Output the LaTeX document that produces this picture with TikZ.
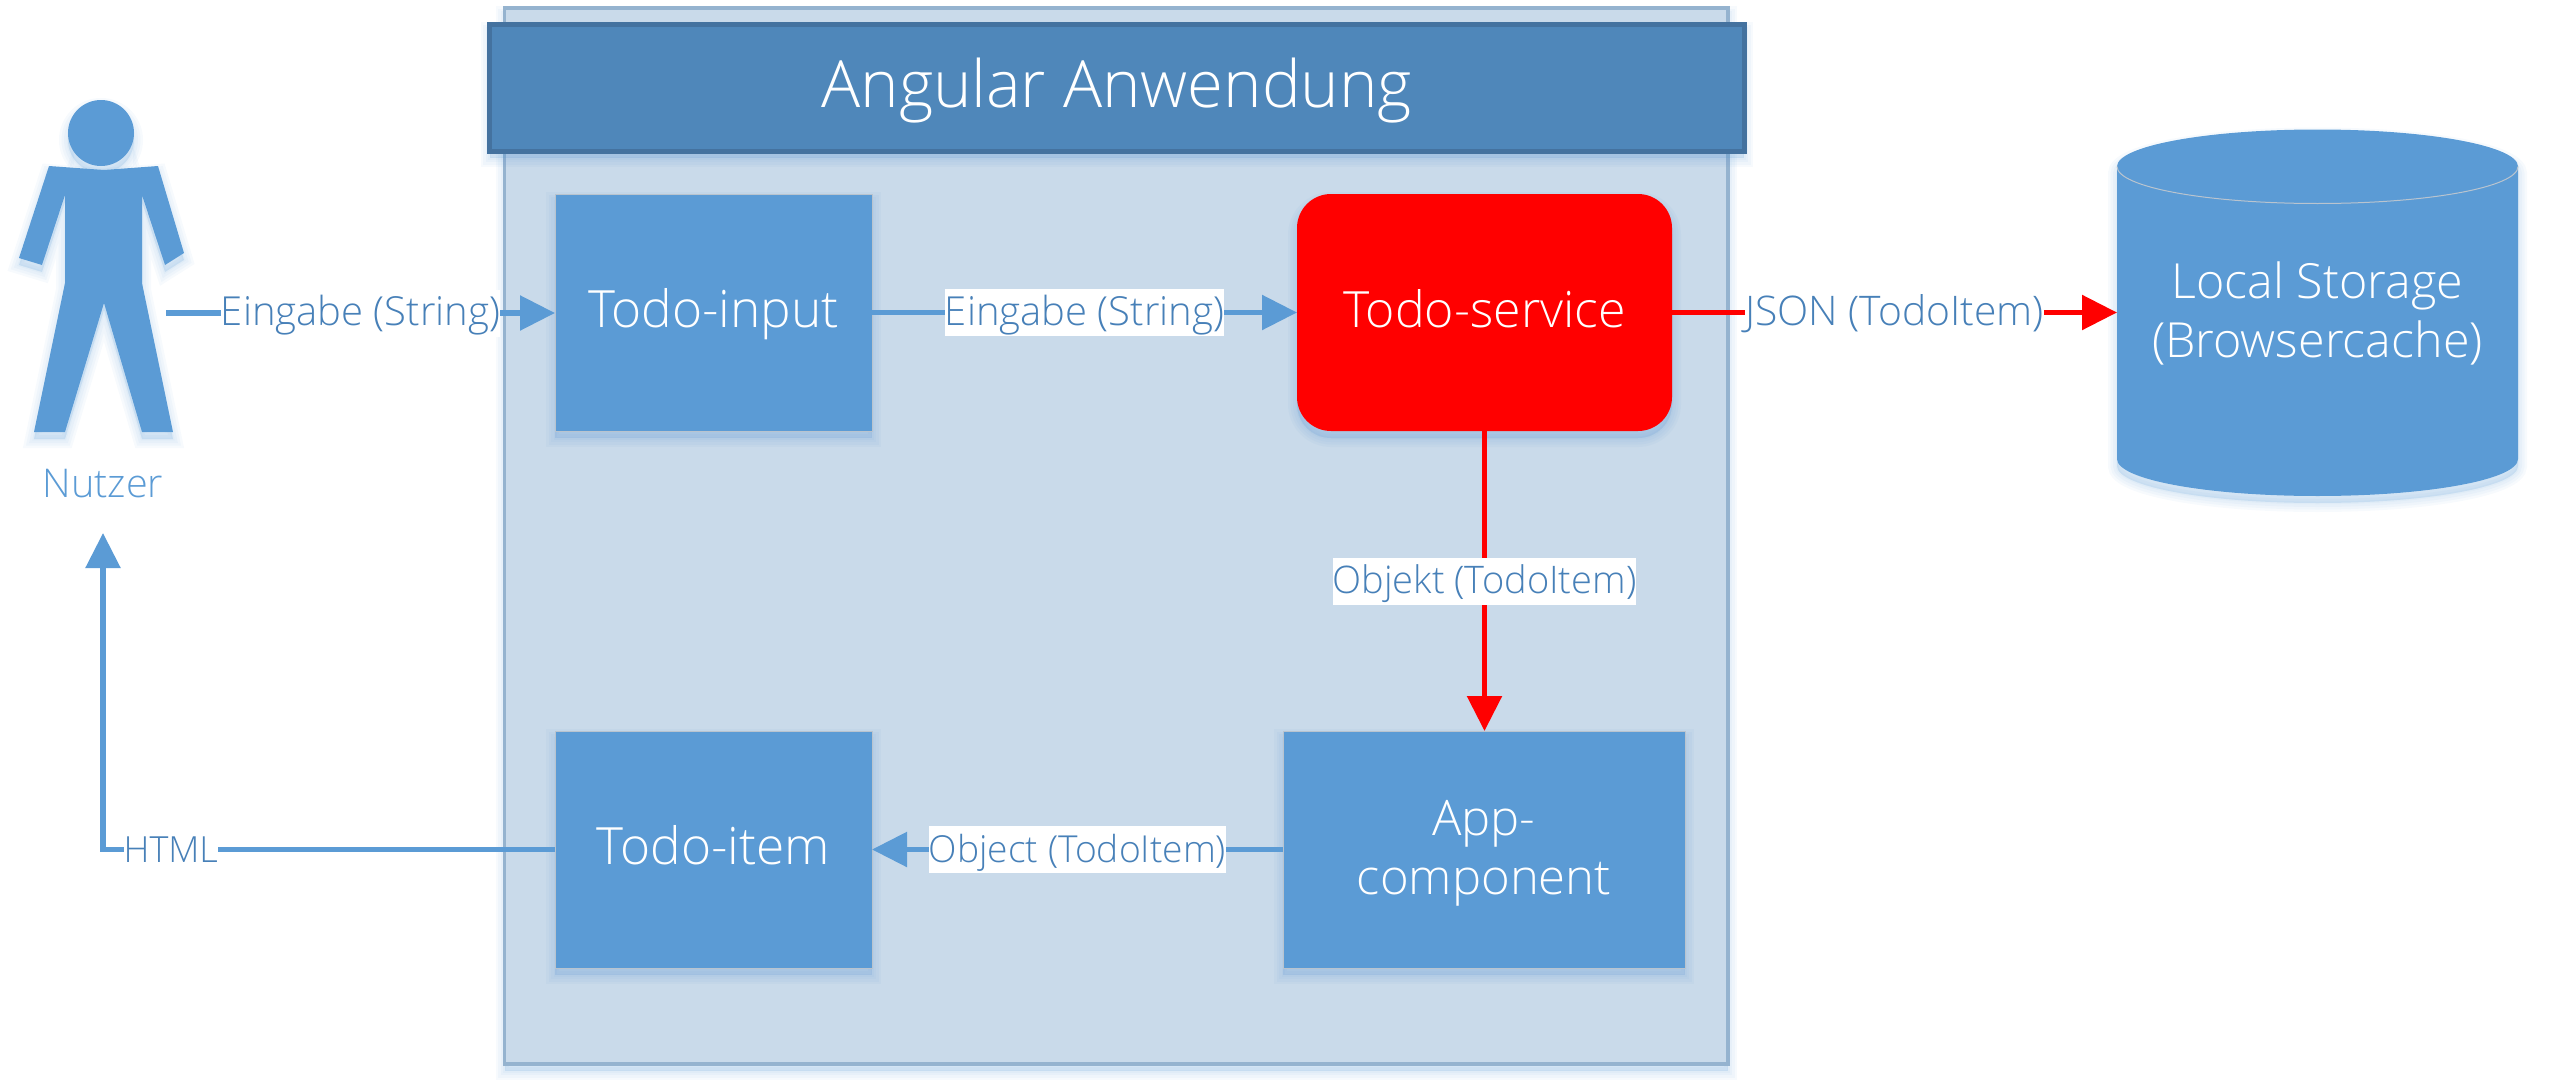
\documentclass[tikz,border=0pt]{standalone}
\usepackage{fontspec}
\setmainfont{Open Sans Light}
\usetikzlibrary{arrows.meta}
\definecolor{bluefill}{HTML}{5B9BD5}
\definecolor{headfill}{HTML}{4F87BA}
\definecolor{headline}{HTML}{44729F}
\definecolor{contfill}{HTML}{C9DAEA}
\definecolor{contline}{HTML}{95B3CF}
\definecolor{labeltext}{HTML}{4780B8}
\definecolor{shadowc}{HTML}{5B9BD5}
\definecolor{edgegrey}{HTML}{B9C4CF}
\tikzset{
  softshadow/.style={
    preaction={draw=shadowc,fill=shadowc,opacity=.05,line width=9pt,transform canvas={yshift=-3.5pt}},
    preaction={draw=shadowc,fill=shadowc,opacity=.05,line width=6.5pt,transform canvas={yshift=-3.5pt}},
    preaction={draw=shadowc,fill=shadowc,opacity=.05,line width=4pt,transform canvas={yshift=-3.5pt}},
    preaction={draw=shadowc,fill=shadowc,opacity=.05,line width=1.5pt,transform canvas={yshift=-3.5pt}}},
  boxbase/.style={inner sep=0pt,outer sep=0pt,text=white,align=center},
  boxfont/.style={font=\fontsize{#1}{29.5pt}\selectfont},
  oneline/.style={text height=21.5pt,text depth=6.5pt},
  twolines/.style={text height=50pt,text depth=5.5pt},
  bluebox/.style={boxbase,rectangle,fill=bluefill,draw=edgegrey,line width=.4pt,softshadow},
  redbox/.style={boxbase,rectangle,fill=red,rounded corners=17pt,softshadow},
  container/.style={boxbase,rectangle,fill=contfill,draw=contline,line width=1.75pt,softshadow},
  headerbox/.style={boxbase,rectangle,fill=headfill,draw=headline,line width=2.5pt,softshadow,text height=27pt,text depth=7.5pt,font=\fontsize{32.6pt}{38pt}\selectfont},
  flowline/.style={draw=bluefill,line width=2.75pt,-{Triangle[length=17.5pt,width=17pt]}},
  redline/.style={flowline,draw=red},
  edgelabel/.style={fill=white,text=labeltext,inner sep=0pt,minimum height=23.5pt,text height=15pt,text depth=2.5pt,font=\fontsize{#1}{23pt}\selectfont},
  edgelabel/.default={19pt},
  storetext/.style={boxbase,boxfont=24.2pt,twolines},
}
\begin{document}
\begin{tikzpicture}[x=0.5pt,y=-0.5pt]
\useasboundingbox (0,0) rectangle (2556,1092);
% containers
\node[container,minimum width=611.75pt,minimum height=528pt] (app) at (1116.25,536) {};
\node[headerbox,minimum width=627.25pt,minimum height=63.5pt] (header) at (1116.75,87.5) {Angular Anwendung};
% boxes
\node[bluebox,boxfont=25.7pt,oneline,minimum width=158.5pt,minimum height=118.5pt] (input) at (713.5,312.5) {Todo-input};
\node[redbox,boxfont=25pt,oneline,minimum width=187.5pt,minimum height=118.5pt] (service) at (1484.5,312.5) {Todo-service};
\node[bluebox,boxfont=25.7pt,oneline,minimum width=158.5pt,minimum height=118.5pt] (item) at (713.5,849.5) {Todo-item};
\node[bluebox,boxfont=24.5pt,twolines,minimum width=201pt,minimum height=118.5pt] (comp) at (1484,849.5) {App-\\component};
% storage cylinder
\path[fill=bluefill,softshadow] (2117,166.5)
  .. controls (2117,146) and (2206,129.5) .. (2317.5,129.5)
  .. controls (2429,129.5) and (2518,146) .. (2518,166.5)
  -- (2518,459)
  .. controls (2518,479.5) and (2429,496) .. (2317.5,496)
  .. controls (2206,496) and (2117,479.5) .. (2117,459) -- cycle;
\draw[edgegrey,line width=.5pt] (2117,166.5)
  .. controls (2117,187) and (2206,203.5) .. (2317.5,203.5)
  .. controls (2429,203.5) and (2518,187) .. (2518,166.5);
\node[storetext,minimum width=200.5pt,minimum height=183pt] (storage) at (2317.5,312.5) {Local Storage\\(Browsercache)};
% user figure
\fill[bluefill,softshadow] (101,133) circle[radius=16.5pt];
\path[fill=bluefill,softshadow] (49,166) -- (104,170) -- (158,166) -- (184,253) -- (165,265) -- (142,195) -- (142,283)
  -- (173,432) -- (142,432) -- (104,303) -- (65,432) -- (34,432) -- (65,283) -- (65,195) -- (42,265) -- (19,258) -- cycle;
\node[text=bluefill,inner sep=0pt,text height=17pt,text depth=3pt,font=\fontsize{19.8pt}{23pt}\selectfont] (user) at (103,483) {Nutzer};
\coordinate (userout) at (166,313);
\coordinate (userin) at (103,533);
\coordinate (corner) at (103,849.5);
% connectors
\draw[flowline] (userout) -- node[edgelabel=20pt] {Eingabe (String)} (input.west |- userout);
\draw[flowline] (input) -- node[edgelabel=20pt] {Eingabe (String)} (service);
\draw[redline] (service) -- node[edgelabel=20.4pt] {JSON (TodoItem)} (storage);
\draw[redline] (service.south) -- node[edgelabel=19pt] {Objekt (TodoItem)} (service.south |- comp.north);
\draw[flowline] (comp) -- node[edgelabel=18.6pt] {Object (TodoItem)} (item);
\draw[flowline] (item) -- node[edgelabel=18pt,pos=.85] {HTML} (corner) -- (userin);
\end{tikzpicture}
\end{document}
